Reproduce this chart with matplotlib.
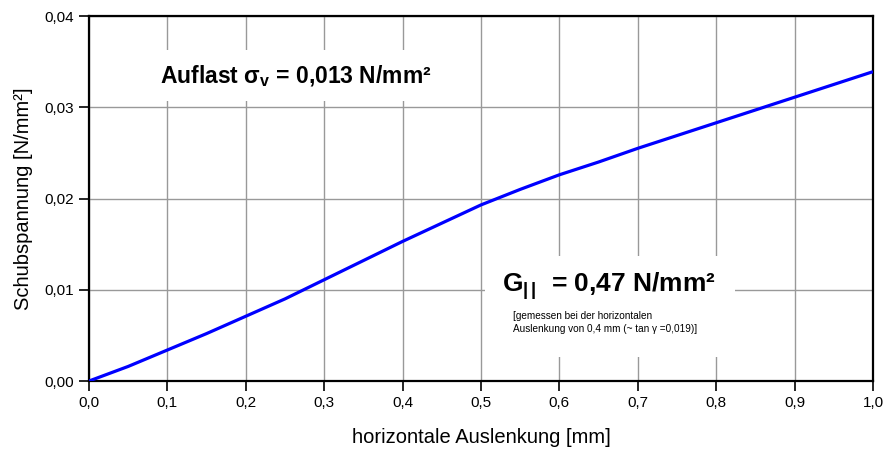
"""Schubspannung ueber horizontale Auslenkung (Schubversuch)."""

import matplotlib
matplotlib.use("Agg")
import matplotlib.pyplot as plt
from matplotlib.patches import Rectangle
from matplotlib.ticker import FuncFormatter

plt.rcParams["font.family"] = ["Liberation Sans", "DejaVu Sans"]
plt.rcParams["mathtext.fontset"] = "custom"
plt.rcParams["mathtext.rm"] = "Liberation Sans"
plt.rcParams["mathtext.bf"] = "Liberation Sans:bold"
plt.rcParams["mathtext.it"] = "Liberation Sans:italic"

# values
auslenkung = [0.0, 0.05, 0.1, 0.15, 0.2, 0.25, 0.3, 0.35, 0.4, 0.45, 0.5,
              0.55, 0.6, 0.65, 0.7, 0.75, 0.8, 0.85, 0.9, 0.95, 1.0]
schubspannung = [0.0, 0.0016, 0.0034, 0.0052, 0.0071, 0.0090, 0.0111,
                 0.0132, 0.0153, 0.0173, 0.0193, 0.0210, 0.0226, 0.0240,
                 0.0255, 0.0269, 0.0283, 0.0297, 0.0311, 0.0325, 0.0339]

x_ticks = [0.0, 0.1, 0.2, 0.3, 0.4, 0.5, 0.6, 0.7, 0.8, 0.9, 1.0]
y_ticks = [0.0, 0.01, 0.02, 0.03, 0.04]


def komma(fmt):
    return FuncFormatter(lambda v, _: (fmt % v).replace(".", ","))


fig = plt.figure(figsize=(8.85, 4.5), dpi=100)
ax = fig.add_axes([0.1006, 0.1533, 0.8858, 0.8111])

ax.plot(auslenkung, schubspannung, color="#0000ff", linewidth=2.3,
        solid_capstyle="butt", solid_joinstyle="round", zorder=3)

ax.set_xlim(0, 1.0)
ax.set_ylim(0, 0.04)
ax.set_xticks(x_ticks)
ax.set_yticks(y_ticks)
ax.xaxis.set_major_formatter(komma("%.1f"))
ax.yaxis.set_major_formatter(komma("%.2f"))
ax.tick_params(direction="out", length=7, width=1.2, labelsize=11, pad=4)
ax.grid(True, color="#999999", linewidth=1.0)
for sp in ax.spines.values():
    sp.set_linewidth(1.6)
    sp.set_color("black")

ax.set_xlabel("horizontale Auslenkung [mm]", fontsize=14.5, labelpad=13)
ax.set_ylabel("Schubspannung [N/mm²]", fontsize=14.5, labelpad=8)

ax.text(0.09, 0.0327, r"Auflast σ$_\mathbf{v}$ = 0,013 N/mm²",
        fontsize=16.5, fontweight="bold", va="baseline", ha="left", zorder=4,
        bbox=dict(facecolor="white", edgecolor="none", pad=9))

# white field behind the G-modulus note
ax.add_patch(Rectangle((0.505, 0.0026), 0.319, 0.0111, facecolor="white",
                       edgecolor="none", zorder=2.5))
ax.text(0.527, 0.0098, r"G$_{\mathbf{|\,|}}$  = 0,47 N/mm²",
        fontsize=19, fontweight="bold", va="baseline", ha="left", zorder=5)
ax.text(0.541, 0.0064,
        "[gemessen bei der horizontalen\nAuslenkung von 0,4 mm (~ tan γ =0,019)]",
        fontsize=7.2, va="center", ha="left", linespacing=1.3, zorder=5)

fig.savefig("out.png", dpi=100)
